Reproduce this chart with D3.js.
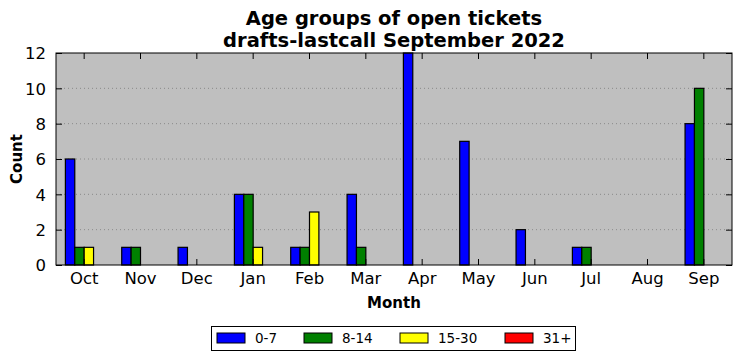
<!DOCTYPE html>
<head>
  <meta charset="utf-8">
  <script src="https://d3js.org/d3.v7.min.js"></script>
  <style>
    body { margin:0; background:white; }
    text { font-family: "DejaVu Sans", sans-serif; }
  </style>
</head>
<body>
<div id=figure></div>
<script>
  var months = ["Oct","Nov","Dec","Jan","Feb","Mar","Apr","May","Jun","Jul","Aug","Sep"];
  var groups = ["0-7","8-14","15-30","31+"];
  var colors = ["blue","green","yellow","red"];
  var age0_7   = [6,1,1,4,1,4,12,7,2,1,0,8];
  var age8_14  = [1,1,0,4,1,1,0,0,0,1,0,10];
  var age15_30 = [1,0,0,1,3,0,0,0,0,0,0,0];
  var age31    = [0,0,0,0,0,0,0,0,0,0,0,0];
  var yTicks = [0,2,4,6,8,10,12];

  var series = [age0_7, age8_14, age15_30, age31];

  var W = 741, H = 361;
  var margin = {top: 53, right: 9, bottom: 96, left: 56};
  var width = W - margin.left - margin.right;
  var height = H - margin.top - margin.bottom;

  var svg = d3.select("#figure").append("svg")
    .attr("width", W).attr("height", H);

  var g = svg.append("g")
    .attr("transform", "translate(" + margin.left + "," + margin.top + ")");

  var x = d3.scaleBand().domain(months).range([0, width]).padding(0);
  var bw = x.bandwidth();
  var sub = d3.scaleBand().domain(groups).range([bw/6, bw*5/6]).padding(0);
  var y = d3.scaleLinear().domain([0, 12]).range([height, 0]);
  var color = d3.scaleOrdinal().domain(groups).range(colors);

  g.append("rect")
    .attr("width", width).attr("height", height)
    .attr("fill", "#bfbfbf");

  // grid
  g.selectAll(".grid").data(yTicks.slice(1, -1)).enter().append("line")
    .attr("x1", 0).attr("x2", width)
    .attr("y1", d => y(d)).attr("y2", d => y(d))
    .attr("stroke", "#8a8a8a").attr("stroke-width", 1)
    .attr("stroke-dasharray", "1,3");

  // bars
  groups.forEach(function(grp, k) {
    g.selectAll(".bar" + k).data(series[k]).enter().append("rect")
      .attr("x", (d, i) => x(months[i]) + sub(grp))
      .attr("y", d => y(d))
      .attr("width", sub.bandwidth())
      .attr("height", d => y(0) - y(d))
      .attr("fill", color(grp))
      .attr("stroke", "black").attr("stroke-width", 1.2);
  });

  // axes
  var xAxis = d3.axisBottom(x).tickSizeInner(-6).tickSizeOuter(0).tickPadding(7);
  var yAxis = d3.axisLeft(y).tickValues(yTicks).tickSizeInner(-6).tickSizeOuter(0).tickPadding(10);

  var gx = g.append("g").attr("transform", "translate(0," + height + ")").call(xAxis);
  var gy = g.append("g").call(yAxis);
  g.append("g").call(d3.axisTop(x).tickSizeInner(-6).tickSizeOuter(0)).selectAll("text").remove();
  g.append("g").attr("transform", "translate(" + width + ",0)")
    .call(d3.axisRight(y).tickValues(yTicks).tickSizeInner(-6).tickSizeOuter(0)).selectAll("text").remove();

  g.selectAll(".domain").remove();
  g.selectAll(".tick line").attr("stroke", "black");
  gx.selectAll("text").style("font-size", "16.5px").attr("fill", "black");
  gy.selectAll("text").style("font-size", "16.5px").attr("fill", "black").attr("dy", "0.35em");

  g.append("rect")
    .attr("width", width).attr("height", height)
    .attr("fill", "none").attr("stroke", "black").attr("stroke-width", 1);

  // titles
  svg.append("text").attr("x", margin.left + width/2).attr("y", 25)
    .attr("text-anchor", "middle").style("font-size", "19.5px").style("font-weight", "bold")
    .text("Age groups of open tickets");
  svg.append("text").attr("x", margin.left + width/2).attr("y", 47)
    .attr("text-anchor", "middle").style("font-size", "19.5px").style("font-weight", "bold")
    .text("drafts-lastcall September 2022");

  svg.append("text").attr("x", margin.left + width/2).attr("y", 308)
    .attr("text-anchor", "middle").style("font-size", "15px").style("font-weight", "bold")
    .text("Month");
  svg.append("text")
    .attr("transform", "translate(22," + (margin.top + height/2) + ") rotate(-90)")
    .attr("text-anchor", "middle").style("font-size", "15px").style("font-weight", "bold")
    .text("Count");

  // legend
  var legendX = [217, 304, 400, 505];
  svg.append("rect").attr("x", 211.5).attr("y", 326.5).attr("width", 364).attr("height", 24)
    .attr("fill", "white").attr("stroke", "black");
  var leg = svg.selectAll(".legend").data(groups).enter().append("g")
    .attr("transform", (d, i) => "translate(" + legendX[i] + ",333)");
  leg.append("rect").attr("width", 28).attr("height", 10)
    .attr("fill", d => color(d)).attr("stroke", "black");
  leg.append("text").attr("x", 38).attr("y", 10).style("font-size", "13.5px")
    .text(d => d);
</script>
</body>
